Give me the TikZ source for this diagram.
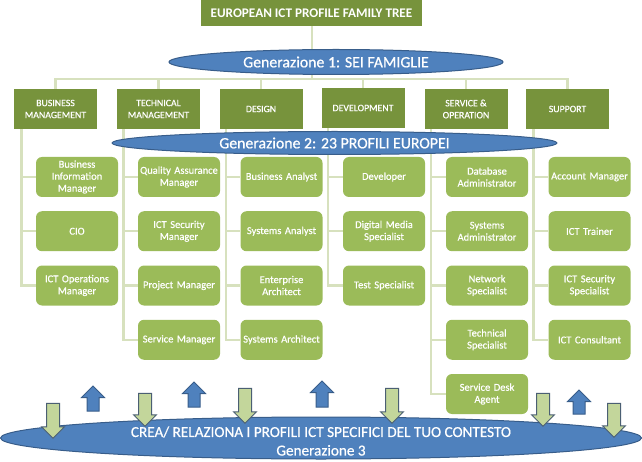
\documentclass[tikz,border=0pt]{standalone}
\usepackage{fontspec}
\setmainfont{Carlito}
\newfontfamily\spesso[FakeBold=0.6]{Carlito}
\usepackage{tikz}
\usetikzlibrary{shapes,arrows,positioning}

\definecolor{verdescuro}{RGB}{119,147,60}
\definecolor{verde}{RGB}{155,187,89}
\definecolor{verdechiaro}{RGB}{195,214,155}
\definecolor{linea}{RGB}{215,225,190}
\definecolor{blu}{RGB}{79,129,189}
\definecolor{bluscuro}{RGB}{56,93,138}
\definecolor{grigioblu}{RGB}{75,95,115}

\begin{document}
\begin{tikzpicture}[x=1pt,y=-1pt,node distance=54.25pt,semithick]
\tikzstyle{titolo}=[fill=verdescuro,text=white,minimum width=221pt,minimum height=26pt,inner sep=1pt,font=\fontsize{13.2}{15}\selectfont\bfseries]
\tikzstyle{famiglia}=[fill=verdescuro,text=white,minimum width=83pt,minimum height=40pt,inner sep=1pt,align=center,font=\spesso\fontsize{9.8}{12}\selectfont]
\tikzstyle{profilo}=[fill=verde,text=white,rounded corners=6pt,minimum width=82pt,minimum height=40pt,text width=80pt,inner sep=1pt,align=center,font=\spesso\fontsize{10.5}{12}\selectfont]
\tikzstyle{generazione}=[ellipse,fill=blu,draw=bluscuro,line width=1pt,text=white,inner sep=0pt,font=\spesso\fontsize{15.8}{17}\selectfont]
\tikzstyle{ramo}=[draw=linea,line width=2.5pt]
\tikzstyle{frecciagiu}=[single arrow,rotate=-90,fill=verdechiaro,draw=grigioblu,line width=1pt,inner sep=0pt,inner ysep=6pt,single arrow head extend=5pt]
\tikzstyle{frecciasu}=[single arrow,rotate=90,fill=blu,draw=bluscuro,line width=1pt,inner sep=0pt,inner ysep=5.5pt,single arrow head extend=5.5pt]
\useasboundingbox (0,0) rectangle (642,462);

% titolo e famiglie
\node[titolo] (tree) at (311.5,13) {EUROPEAN ICT PROFILE FAMILY TREE};
\node[famiglia] (bm) at (55.5,109) {BUSINESS\\MANAGEMENT};
\node[famiglia] (tm) at (158.5,109) {TECHNICAL\\MANAGEMENT};
\node[famiglia] (ds) at (261,109) {DESIGN};
\node[famiglia] (dv) at (363,108) {DEVELOPMENT};
\node[famiglia] (so) at (466,109) {SERVICE \&\\OPERATION};
\node[famiglia] (sp) at (567.5,109) {SUPPORT};
\coordinate (bus) at (312,79);

% profili
\node[profilo] (bim) at (77,177) {Business\\Information\\Manager};
\node[profilo][below of=bim] (cio) {CIO};
\node[profilo][below of=cio] (iom) {ICT Operations\\Manager};

\node[profilo] (qam) at (179,177) {Quality Assurance\\Manager};
\node[profilo][below of=qam] (ism) {ICT Security\\Manager};
\node[profilo][below of=ism] (pm) {Project Manager};
\node[profilo][below of=pm] (sm) {Service Manager};

\node[profilo] (ba) at (281.5,177) {Business Analyst};
\node[profilo][below of=ba] (sa) {Systems Analyst};
\node[profilo][below of=sa] (ea) {Enterprise\\Architect};
\node[profilo][below of=ea] (sar) {Systems Architect};

\node[profilo] (dev) at (384,177) {Developer};
\node[profilo][below of=dev] (dms) {Digital Media\\Specialist};
\node[profilo][below of=dms] (ts) {Test Specialist};

\node[profilo] (dba) at (487,177) {Database\\Administrator};
\node[profilo][below of=dba] (sad) {Systems\\Administrator};
\node[profilo][below of=sad] (ns) {Network\\Specialist};
\node[profilo][below of=ns] (tsp) {Technical\\Specialist};
\node[profilo][below of=tsp] (sda) {Service Desk\\Agent};

\node[profilo] (am) at (589.5,177) {Account Manager};
\node[profilo][below of=am] (ict) {ICT Trainer};
\node[profilo][below of=ict] (iss) {ICT Security\\Specialist};
\node[profilo][below of=iss] (ic) {ICT Consultant};

% rami
\draw[ramo] (tree.south -| bus) -- (bus);
\draw[ramo] (bm.north) |- (bus) -| (sp.north);
\draw[ramo] (tm.north) -- (tm.north |- bus);
\draw[ramo] (ds.north) -- (ds.north |- bus);
\draw[ramo] (dv.north) -- (dv.north |- bus);
\draw[ramo] (so.north) -- (so.north |- bus);
\draw[ramo] ([xshift=8pt]bm.south west) |- (bim.west)
            ([xshift=8pt]bm.south west) |- (cio.west)
            ([xshift=8pt]bm.south west) |- (iom.west);
\draw[ramo] ([xshift=7pt]tm.south west) |- (qam.west)
            ([xshift=7pt]tm.south west) |- (ism.west)
            ([xshift=7pt]tm.south west) |- (pm.west)
            ([xshift=7pt]tm.south west) |- (sm.west);
\draw[ramo] ([xshift=7pt]ds.south west) |- (ba.west)
            ([xshift=7pt]ds.south west) |- (sa.west)
            ([xshift=7pt]ds.south west) |- (ea.west)
            ([xshift=7pt]ds.south west) |- (sar.west);
\draw[ramo] ([xshift=7pt]dv.south west) |- (dev.west)
            ([xshift=7pt]dv.south west) |- (dms.west)
            ([xshift=7pt]dv.south west) |- (ts.west);
\draw[ramo] ([xshift=7pt]so.south west) |- (dba.west)
            ([xshift=7pt]so.south west) |- (sad.west)
            ([xshift=7pt]so.south west) |- (ns.west)
            ([xshift=7pt]so.south west) |- (tsp.west)
            ([xshift=7pt]so.south west) |- (sda.west);
\draw[ramo] ([xshift=8pt]sp.south west) |- (am.west)
            ([xshift=8pt]sp.south west) |- (ict.west)
            ([xshift=8pt]sp.south west) |- (iss.west)
            ([xshift=8pt]sp.south west) |- (ic.west);

% generazioni
\node[generazione,minimum width=334pt,minimum height=25pt] (gen1) at (336,62) {Generazione 1: SEI FAMIGLIE};
\node[generazione,minimum width=445pt,minimum height=23pt] (gen2) at (334.5,143) {Generazione 2: 23 PROFILI EUROPEI};
\node[generazione,minimum width=641pt,minimum height=42pt] (gen3) at (321,438) {};
\node[text=white,align=center,font=\spesso\fontsize{15.2}{18.5}\selectfont] (crea) at (321,441) {CREA/ RELAZIONA I PROFILI ICT SPECIFICI DEL TUO CONTESTO\\Generazione 3};

% frecce
\node[frecciagiu,minimum height=35pt] (g1) at (53,417.5) {};
\node[frecciagiu,minimum height=33pt] (g2) at (145,406.5) {};
\node[frecciagiu,minimum height=35pt] (g3) at (245,402.5) {};
\node[frecciagiu,minimum height=35pt] (g4) at (392,402.5) {};
\node[frecciagiu,minimum height=33pt] (g5) at (543,406.5) {};
\node[frecciagiu,minimum height=34pt] (g6) at (614,417) {};
\node[frecciasu,minimum height=25pt] (s1) at (93,401.5) {};
\node[frecciasu,minimum height=25pt] (s2) at (194,397.5) {};
\node[frecciasu,minimum height=26pt] (s3) at (322,397) {};
\node[frecciasu,minimum height=24pt] (s4) at (579,405) {};
\end{tikzpicture}
\end{document}
